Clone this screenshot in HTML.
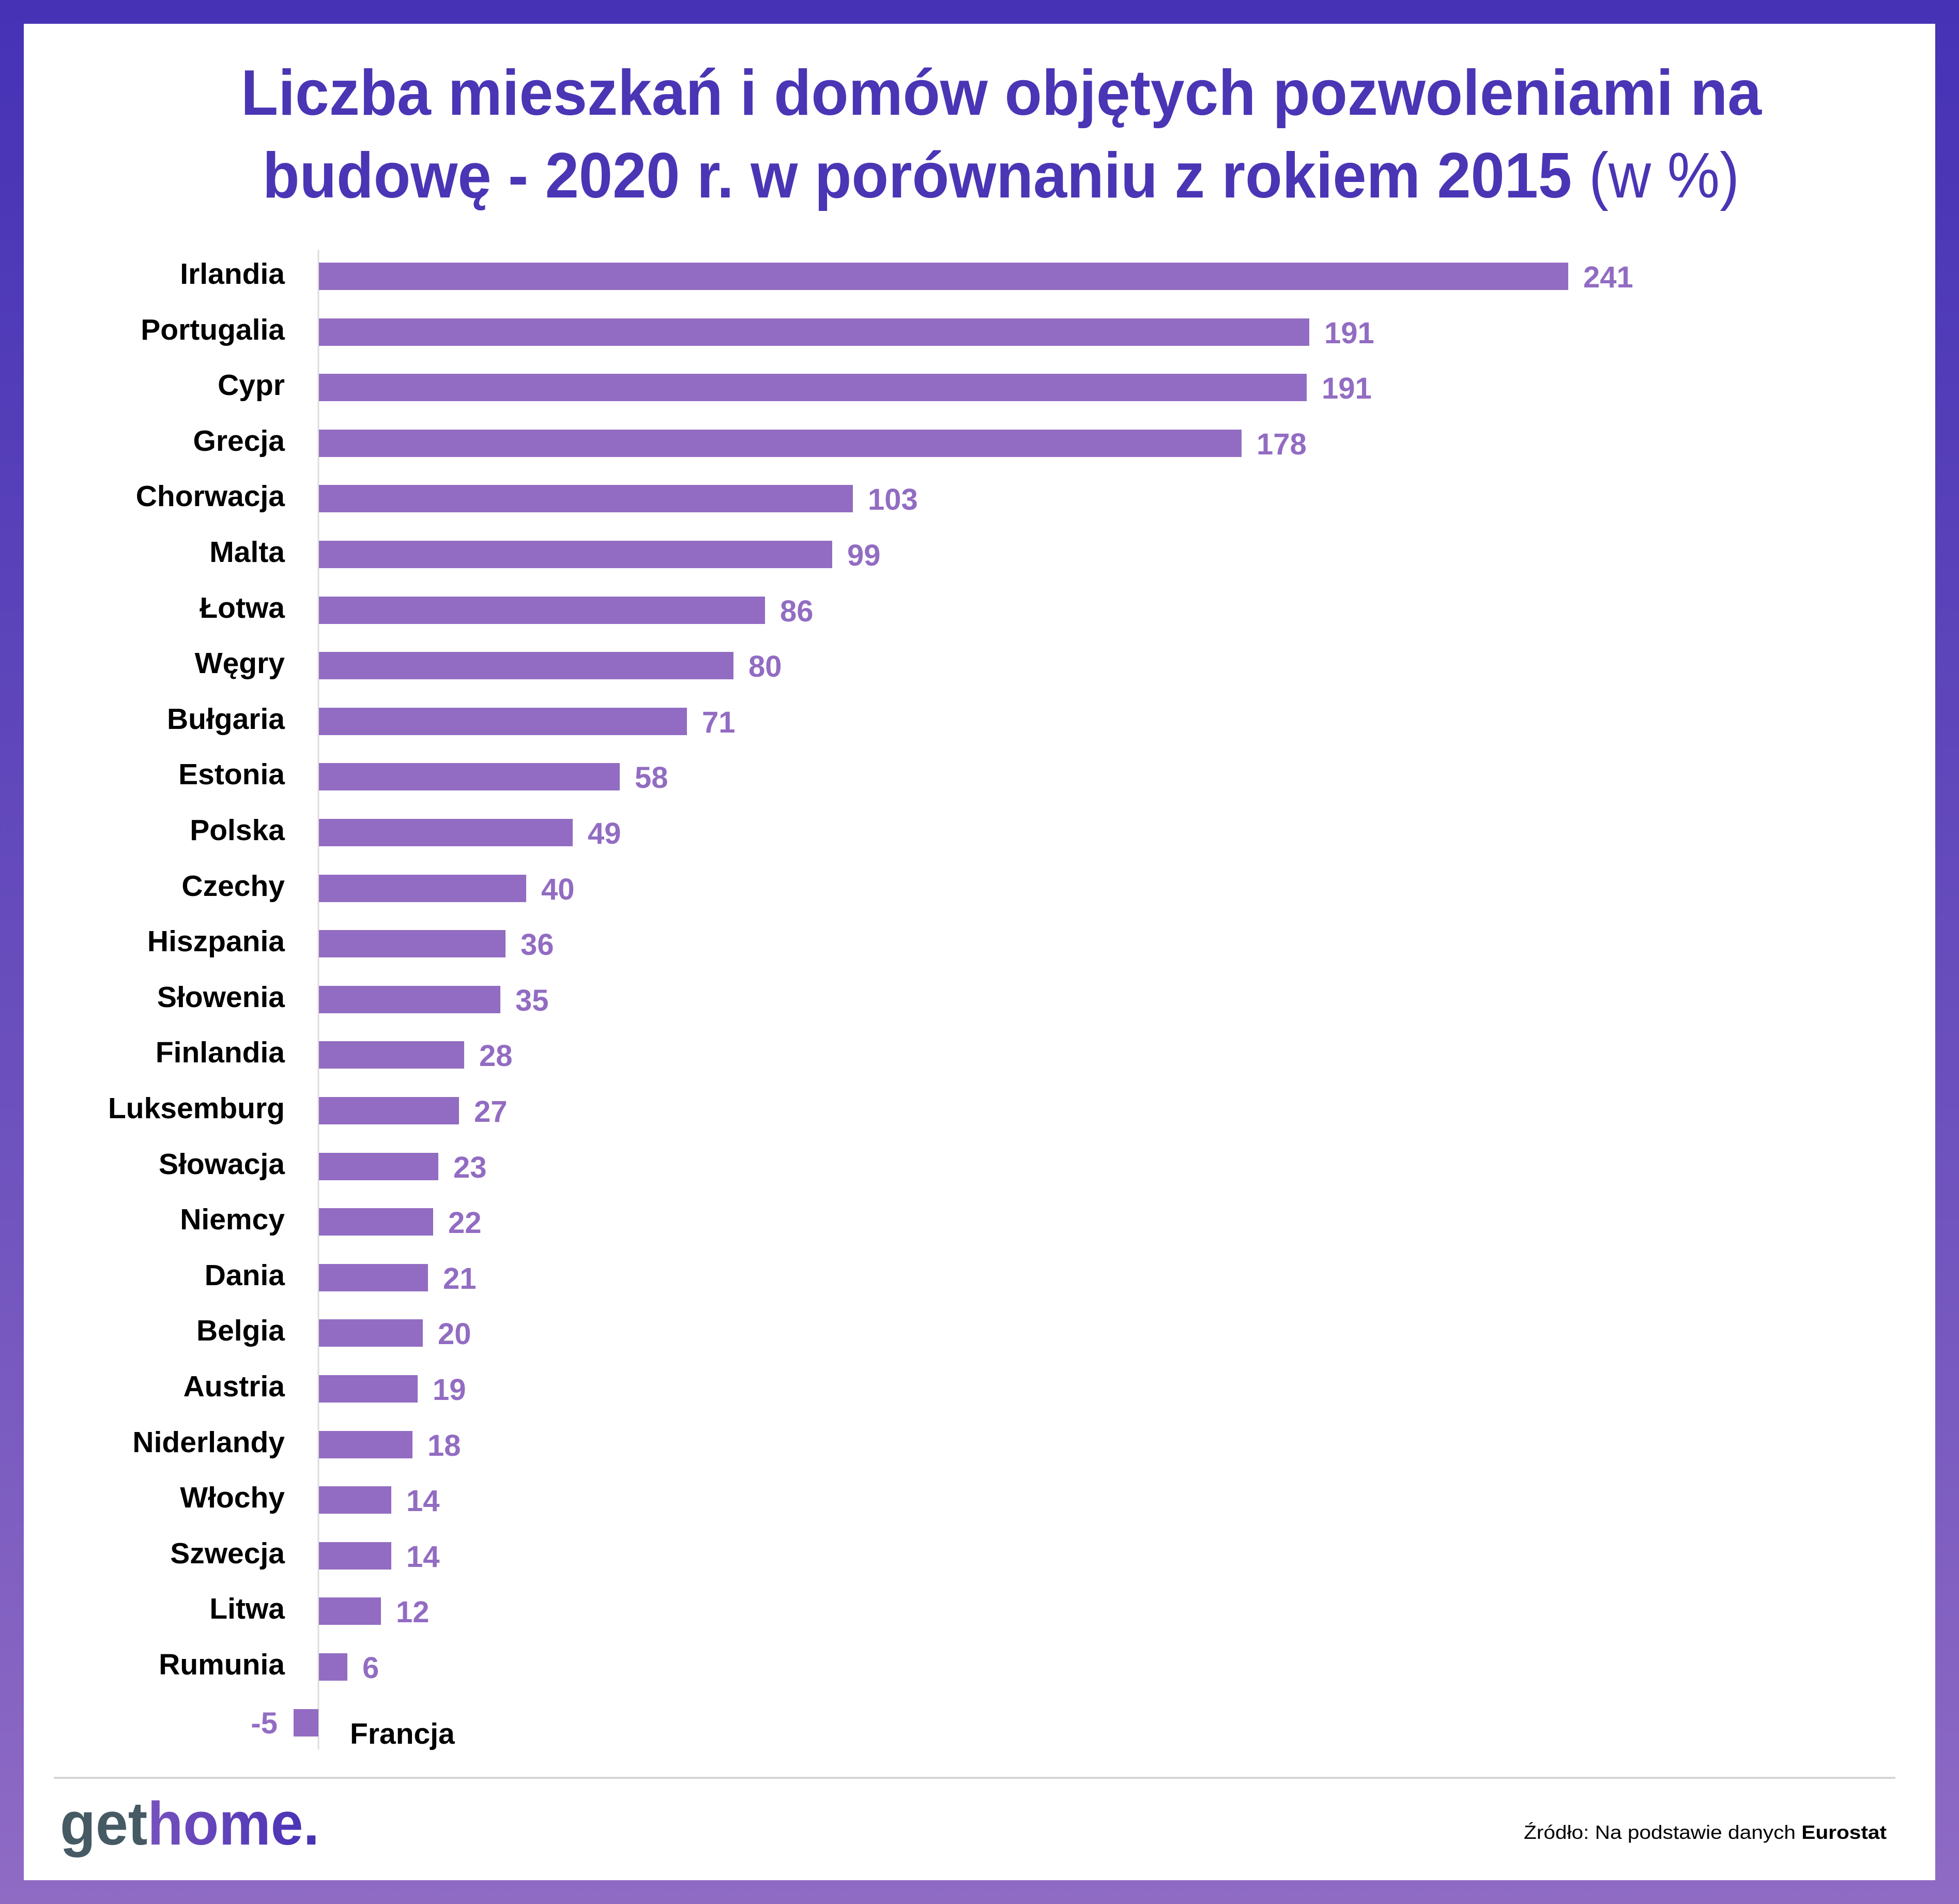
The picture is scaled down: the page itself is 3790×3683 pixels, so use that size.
<!DOCTYPE html>
<html><head><meta charset="utf-8"><style>
html,body{margin:0;padding:0}
body{width:3790px;height:3683px;overflow:hidden;background:linear-gradient(180deg,#4532b5 0%,#6a4fbd 55%,#8f6bc4 100%)}
svg{display:block}
</style></head><body>
<svg width="3790" height="3683" viewBox="0 0 3790 3683" xmlns="http://www.w3.org/2000/svg">
<defs>
<linearGradient id="lg" x1="0" x2="1" y1="0" y2="0">
<stop offset="0" stop-color="#8f62c2"/><stop offset="1" stop-color="#4630b5"/>
</linearGradient>
</defs>
<rect x="46" y="46" width="3698" height="3591" fill="#fff"/>
<g font-family="Liberation Sans, sans-serif" font-weight="bold" fill="#4a35b5" font-size="124">
<text x="466" y="222" textLength="2942" lengthAdjust="spacingAndGlyphs">Liczba mieszkań i domów objętych pozwoleniami na</text>
<text x="508" y="382" textLength="2533" lengthAdjust="spacingAndGlyphs">budowę - 2020 r. w porównaniu z rokiem 2015</text>
<text x="3074" y="382" font-weight="normal" textLength="291" lengthAdjust="spacingAndGlyphs">(w %)</text>
</g>
<line x1="616" y1="483" x2="616" y2="3384" stroke="#dddddd" stroke-width="3"/>
<g fill="#926cc2">
<rect x="617" y="508" width="2417" height="53"/>
<rect x="617" y="616" width="1916" height="53"/>
<rect x="617" y="723" width="1911" height="53"/>
<rect x="617" y="831" width="1785" height="53"/>
<rect x="617" y="938" width="1033" height="53"/>
<rect x="617" y="1046" width="993" height="53"/>
<rect x="617" y="1154" width="863" height="53"/>
<rect x="617" y="1261" width="802" height="53"/>
<rect x="617" y="1369" width="712" height="53"/>
<rect x="617" y="1476" width="582" height="53"/>
<rect x="617" y="1584" width="491" height="53"/>
<rect x="617" y="1692" width="401" height="53"/>
<rect x="617" y="1799" width="361" height="53"/>
<rect x="617" y="1907" width="351" height="53"/>
<rect x="617" y="2014" width="281" height="53"/>
<rect x="617" y="2122" width="271" height="53"/>
<rect x="617" y="2230" width="231" height="53"/>
<rect x="617" y="2337" width="221" height="53"/>
<rect x="617" y="2445" width="211" height="53"/>
<rect x="617" y="2552" width="201" height="53"/>
<rect x="617" y="2660" width="191" height="53"/>
<rect x="617" y="2768" width="181" height="53"/>
<rect x="617" y="2875" width="140" height="53"/>
<rect x="617" y="2983" width="140" height="53"/>
<rect x="617" y="3090" width="120" height="53"/>
<rect x="617" y="3198" width="55" height="53"/>
<rect x="568" y="3306" width="48" height="53"/>
</g>
<g font-family="Liberation Sans, sans-serif" font-weight="bold" font-size="57" fill="#000" text-anchor="end">
<text x="551" y="549">Irlandia</text>
<text x="551" y="657">Portugalia</text>
<text x="551" y="764">Cypr</text>
<text x="551" y="872">Grecja</text>
<text x="551" y="979">Chorwacja</text>
<text x="551" y="1087">Malta</text>
<text x="551" y="1195">Łotwa</text>
<text x="551" y="1302">Węgry</text>
<text x="551" y="1410">Bułgaria</text>
<text x="551" y="1517">Estonia</text>
<text x="551" y="1625">Polska</text>
<text x="551" y="1733">Czechy</text>
<text x="551" y="1840">Hiszpania</text>
<text x="551" y="1948">Słowenia</text>
<text x="551" y="2055">Finlandia</text>
<text x="551" y="2163">Luksemburg</text>
<text x="551" y="2271">Słowacja</text>
<text x="551" y="2378">Niemcy</text>
<text x="551" y="2486">Dania</text>
<text x="551" y="2593">Belgia</text>
<text x="551" y="2701">Austria</text>
<text x="551" y="2809">Niderlandy</text>
<text x="551" y="2916">Włochy</text>
<text x="551" y="3024">Szwecja</text>
<text x="551" y="3131">Litwa</text>
<text x="551" y="3239">Rumunia</text>
<text x="677" y="3373" text-anchor="start">Francja</text>
</g>
<g font-family="Liberation Sans, sans-serif" font-weight="bold" font-size="58" fill="#926cc2">
<text x="3063" y="556">241</text>
<text x="2562" y="664">191</text>
<text x="2557" y="771">191</text>
<text x="2431" y="879">178</text>
<text x="1679" y="986">103</text>
<text x="1639" y="1094">99</text>
<text x="1509" y="1202">86</text>
<text x="1448" y="1309">80</text>
<text x="1358" y="1417">71</text>
<text x="1228" y="1524">58</text>
<text x="1137" y="1632">49</text>
<text x="1047" y="1740">40</text>
<text x="1007" y="1847">36</text>
<text x="997" y="1955">35</text>
<text x="927" y="2062">28</text>
<text x="917" y="2170">27</text>
<text x="877" y="2278">23</text>
<text x="867" y="2385">22</text>
<text x="857" y="2493">21</text>
<text x="847" y="2600">20</text>
<text x="837" y="2708">19</text>
<text x="827" y="2816">18</text>
<text x="786" y="2923">14</text>
<text x="786" y="3031">14</text>
<text x="766" y="3138">12</text>
<text x="701" y="3246">6</text>
<text x="537" y="3353" text-anchor="end">-5</text>
</g>
<line x1="104" y1="3439" x2="3667" y2="3439" stroke="#d4d4d4" stroke-width="4"/>
<text x="116" y="3568" font-family="Liberation Sans, sans-serif" font-weight="bold" font-size="118" textLength="502" lengthAdjust="spacingAndGlyphs"><tspan fill="#465a64">get</tspan><tspan fill="url(#lg)">home.</tspan></text>
<text x="2948" y="3557" font-family="Liberation Sans, sans-serif" font-size="37" fill="#000" textLength="702" lengthAdjust="spacingAndGlyphs">Źródło: Na podstawie danych <tspan font-weight="bold">Eurostat</tspan></text>
</svg>
</body></html>
